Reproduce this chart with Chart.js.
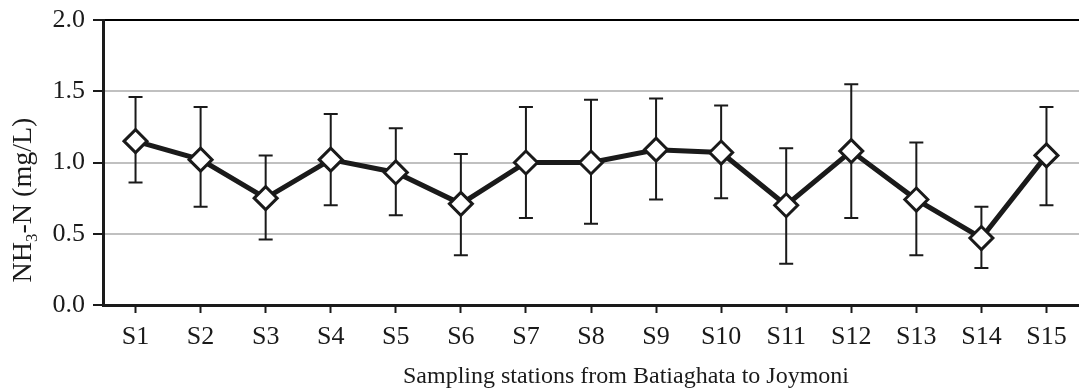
<!DOCTYPE html>
<html>
<head>
<meta charset="utf-8">
<script src="https://cdn.jsdelivr.net/npm/chart.js@4/dist/chart.umd.min.js"></script>
<style>
  html, body { margin: 0; padding: 0; background: #ffffff; overflow: hidden; }
  #c { display: block; width: 1079px; height: 388px; }
</style>
</head>
<body>
<canvas id="c" width="1079" height="388"></canvas>
<script>
// ---- data ----
const categories = ['S1','S2','S3','S4','S5','S6','S7','S8','S9','S10','S11','S12','S13','S14','S15'];
const meanValues = [1.15, 1.02, 0.75, 1.02, 0.93, 0.71, 1.00, 1.00, 1.09, 1.07, 0.70, 1.08, 0.74, 0.47, 1.05];
const upperValues = [1.46, 1.39, 1.05, 1.34, 1.24, 1.06, 1.39, 1.44, 1.45, 1.40, 1.10, 1.55, 1.14, 0.69, 1.39];
const lowerValues = [0.86, 0.69, 0.46, 0.70, 0.63, 0.35, 0.61, 0.57, 0.74, 0.75, 0.29, 0.61, 0.35, 0.26, 0.70];
const yTickValues = [0.0, 0.5, 1.0, 1.5, 2.0];
const xTitle = 'Sampling stations from Batiaghata to Joymoni';
const yTitleParts = ['NH', '3', '-N (mg/L)'];

const FONT = "'Liberation Serif', 'Times New Roman', serif";
const INK = '#1a1a1a';

const errorBarPlugin = {
  id: 'errorBars',
  beforeDatasetsDraw(chart) {
    const ctx = chart.ctx;
    const xs = chart.scales.x, ys = chart.scales.y;
    ctx.save();
    ctx.strokeStyle = INK;
    ctx.lineWidth = 2;
    ctx.lineCap = 'butt';
    for (let i = 0; i < categories.length; i++) {
      const x = xs.getPixelForValue(i);
      const yU = ys.getPixelForValue(upperValues[i]);
      const yL = ys.getPixelForValue(lowerValues[i]);
      ctx.beginPath();
      ctx.moveTo(x, yU); ctx.lineTo(x, yL);
      ctx.moveTo(x - 7, yU); ctx.lineTo(x + 7, yU);
      ctx.moveTo(x - 7, yL); ctx.lineTo(x + 7, yL);
      ctx.stroke();
    }
    ctx.restore();
  }
};

const titlesPlugin = {
  id: 'titles',
  afterDraw(chart) {
    const ctx = chart.ctx;
    const area = chart.chartArea;
    ctx.save();
    ctx.fillStyle = INK;
    ctx.textBaseline = 'alphabetic';
    // x title
    ctx.font = '24px ' + FONT;
    ctx.textAlign = 'center';
    ctx.fillText(xTitle, (area.left + area.right) / 2 + 35, 383);
    // y title with subscript
    ctx.textAlign = 'left';
    const big = '28px ' + FONT, small = '17px ' + FONT;
    ctx.font = big;
    const w0 = ctx.measureText(yTitleParts[0]).width;
    const w2 = ctx.measureText(yTitleParts[2]).width;
    ctx.font = small;
    const w1 = ctx.measureText(yTitleParts[1]).width;
    const total = w0 + w1 + w2;
    ctx.translate(31, 200);
    ctx.rotate(-Math.PI / 2);
    let x = -total / 2;
    ctx.font = big;
    ctx.fillText(yTitleParts[0], x, 0); x += w0;
    ctx.font = small;
    ctx.fillText(yTitleParts[1], x, 6); x += w1;
    ctx.font = big;
    ctx.fillText(yTitleParts[2], x, 0);
    ctx.restore();
  }
};

new Chart(document.getElementById('c'), {
  type: 'line',
  data: {
    labels: categories,
    datasets: [{
      data: meanValues,
      borderColor: INK,
      borderWidth: 5,
      pointStyle: 'rectRot',
      pointRadius: 11.5,
      pointHoverRadius: 11.5,
      pointBackgroundColor: '#ffffff',
      pointBorderColor: INK,
      pointBorderWidth: 3,
      tension: 0,
      fill: false,
      clip: false
    }]
  },
  options: {
    responsive: false,
    animation: false,
    devicePixelRatio: 1,
    layout: { autoPadding: false, padding: { top: 20, right: 0, left: 0, bottom: 0 } },
    plugins: { legend: { display: false }, tooltip: { enabled: false } },
    scales: {
      x: {
        type: 'category',
        offset: true,
        grid: { display: true, drawOnChartArea: false, drawTicks: true, tickLength: 8, tickColor: INK, tickWidth: 2 },
        border: { display: true, color: INK, width: 3 },
        ticks: { color: INK, font: { family: FONT, size: 26 }, padding: 9, maxRotation: 0, autoSkip: false },
        afterFit(scale) { scale.height = 83; scale.paddingLeft = 0; scale.paddingRight = 0; }
      },
      y: {
        min: 0, max: 2,
        afterBuildTicks(scale) { scale.ticks = yTickValues.map(v => ({ value: v })); },
        grid: {
          color: ctx => (ctx.tick && ctx.tick.value === 2) ? '#000000' : '#c0c0c0',
          lineWidth: 2,
          tickLength: 10, tickColor: INK, tickWidth: 2
        },
        border: { display: true, color: INK, width: 3 },
        ticks: { color: INK, font: { family: FONT, size: 26 }, padding: 8, callback: v => Number(v).toFixed(1) },
        afterFit(scale) { scale.width = 103; scale.paddingTop = 0; scale.paddingBottom = 0; }
      }
    }
  },
  plugins: [errorBarPlugin, titlesPlugin]
});
</script>
</body>
</html>
